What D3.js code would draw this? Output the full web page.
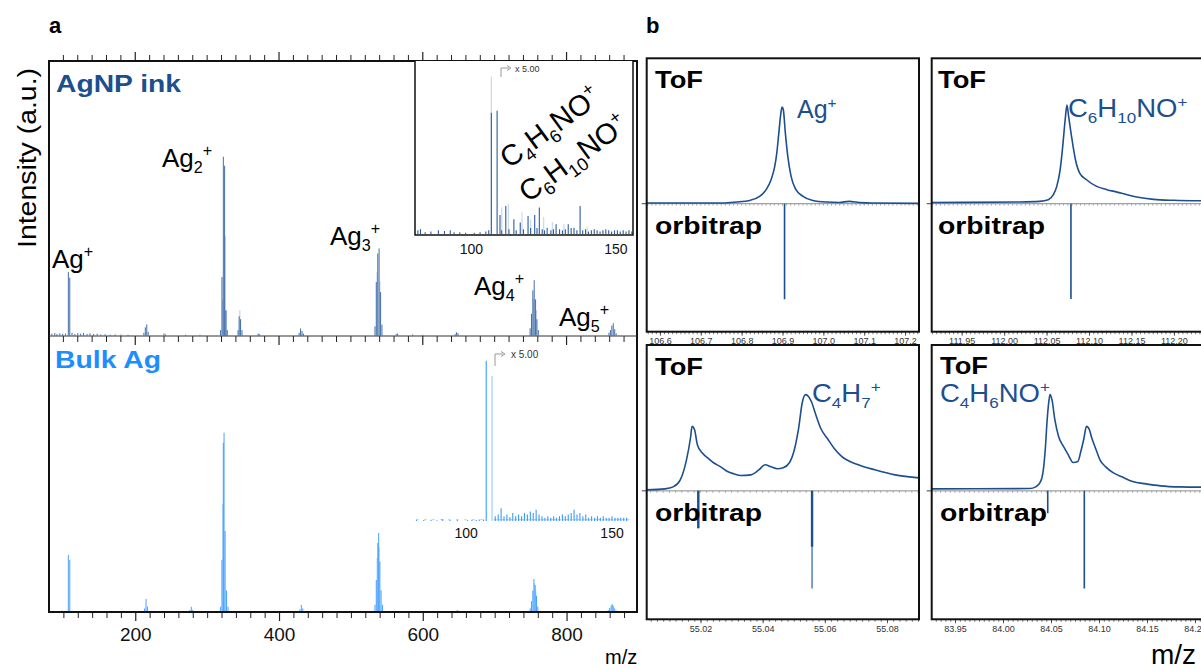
<!DOCTYPE html>
<html>
<head>
<meta charset="utf-8">
<script src="https://cdn.jsdelivr.net/npm/d3@7"></script>
<style>
  html, body { margin: 0; padding: 0; background: #fff; }
  svg { display: block; font-family: "Liberation Sans", Arial, Helvetica, sans-serif; }
</style>
</head>
<body>
<svg id="fig" width="1201" height="670"></svg>
<script>
// ---------------- data ----------------
// Panel a, survey spectra: [m/z, relative intensity]
const agnpPeaks = [
  [84,1.0],[88,1.4],[91,0.8],[95,1.2],[99,0.9],[103,1.1],[106.9,35.2],[108.9,32],
  [112,1.5],[116,0.8],[120,1.3],[124,1.0],[128,1.4],[133,0.9],[137,1.2],[142,0.8],
  [147,1.0],[152,0.6],[158,0.7],[165,0.5],[172,0.6],[180,0.5],[190,0.4],
  [212,1.5],[214,4.5],[216,6.1],[218,2.0],[240,1.1],[242,0.6],[270,0.4],[290,0.4],
  [318.7,3],[320.6,32.4],[322.5,99],[324.3,94],[326,13.9],[328,3],
  [343,3],[344.5,10.6],[346.5,9],[348.5,3],[371,1.1],[373,0.7],
  [428,1.5],[430,3.9],[432,2.5],[434,1],
  [533.5,5],[535.3,29.6],[537.4,45.4],[539.2,48.2],[541.3,24],[543.2,6],
  [563,0.8],[565,1.1],[586,0.6],[600,0.4],[645,0.8],[647,1.8],[649,1.2],
  [749.3,4],[751.2,12],[753.1,25],[755,30.6],[756.9,20],[758.8,9],[760.7,3],
  [859,1.5],[861,3],[863,5.5],[865,6.8],[867,3.5],[869,1.2]
];
const agnpShoulders = [[321.5,20],[325.2,55],[327,14],[345.5,14],[536.4,35],[540.3,30],[754,20],[757.9,14]];

const bulkPeaks = [
  [86,0.6],[92,0.5],[98,0.7],[103,0.5],[106.9,31.7],[108.9,29],
  [113,0.6],[120,0.5],[128,0.7],[136,0.4],[145,0.6],[155,0.4],[170,0.5],[185,0.4],
  [213,2],[215,7.2],[217,3],[230,0.5],[250,0.6],[262,0.4],[276,1.2],[278,2.9],[280,1.2],[300,0.4],
  [318.7,3],[320.6,29],[322.5,94],[323.5,99.6],[325,45],[327,12],[329,3],[345,0.6],[372,0.5],
  [429,1.5],[431,3.9],[433,2],
  [533.5,4],[535.3,17.8],[537.4,38.3],[538.6,43.9],[540.3,28],[542,12],[544,4],
  [646,0.6],[648,1.1],[650,0.6],
  [749.3,2],[751.2,6],[753.1,12],[754.6,18.3],[756.4,15],[758.2,9],[760,3],
  [858,1],[860,2.2],[862,3.6],[863.5,4.4],[865,3.4],[867,2],[869,0.8]
];
const bulkShoulders = [[321.6,60],[536.4,30],[539.5,36],[755.5,16],[757.3,12]];

// Insets, low-mass region magnified x5
const agnpInsetPeaks = [
  [81.5,3],[82.4,4],[84,1.5],[86,2],[88.6,3],[90.7,2.5],[92.7,3],[94,1.5],[96,1.5],[98,1],
  [101,1],[103,1.5],[105,2],[106,3],[106.9,100],[108.9,101.7],[109.9,15.7],[110.5,3],
  [111.9,23.1],[113,4],[114.7,12.1],[115.5,3],[116.9,9.4],[118,4],[119.6,14.9],[120.5,5],
  [121.9,15.7],[122.7,5],[123.5,21.8],[124.5,4],[125.3,3],[126.2,5.2],[127.5,3],[128.4,4],
  [129.3,8],[130.5,4],[131.5,3],[132.5,4],[133.5,8],[134.5,5],[135.5,5.2],[136.5,3],
  [137.6,23.1],[138.5,3],[139.5,4],[140.5,2],[141.5,3],[142.5,4],[143.5,3],[144.5,2],
  [145.5,3],[146.5,4],[147.5,3],[148.5,2],[149.5,3],[150.5,3],[151.5,2],[152.5,3],
  [153.5,2],[154.5,3],[155.5,2]
];
const agnpInsetFaint = [[106.9,130],[110.5,22],[112.8,25],[117.5,18],[120.5,12],[125,14],[128,10],[132,8],[140,6]];

const bulkInsetPeaks = [
  [83,0.8],[85.5,0.6],[88,0.8],[90,0.5],[92,1.2],[94.5,0.6],[97,0.8],[100.5,0.6],[102,0.8],
  [103.5,0.6],[104.5,0.9],[106,1],[106.9,100],
  [110,3],[111,4],[112,8],[113,3],[114,4],[115,2.5],[116,5],[117,3],[118,4],[119,3],[120,5],
  [121,4],[122,6],[123,5],[124,7],[125,4],[126,3],[127,2],[128,3],[129,2],[130,3],[131,2],
  [132,3],[133,4],[134,3],[135,4],[136,5],[137,7],[138,4],[139,5],[140,3],[141,4],[142,2],
  [143,3],[144,2],[145,3],[146,2],[147,3],[148,2],[149,2],[150,3],[151,2],[152,2],[153,2],
  [154,2],[155,2]
];
const bulkInsetSecond = [[108.9,90.5]];

const surveyTicks = [200, 400, 600, 800];
const insetTicks = [100, 150];
const clusterLabels = ["Ag^+", "Ag_2^+", "Ag_3^+", "Ag_4^+", "Ag_5^+"];

// Panel b, high-resolution peaks: ToF profile (up) and orbitrap sticks (down)
const agTof = [[106.568,0.7],[106.754,0.7],[106.787,1.7],[106.820,3.4],[106.844,7.6],[106.860,14.5],
  [106.872,24.8],[106.881,38.6],[106.886,52.4],[106.891,73.1],[106.896,93.8],[106.899,100],
  [106.902,97.2],[106.907,73.1],[106.913,48.9],[106.921,28.2],[106.933,14.5],[106.950,7.6],
  [106.974,3.4],[107.007,1.7],[107.039,1.3],[107.063,2.4],[107.088,1.3],[107.120,0.7],[107.234,0.3]];
const agOrbi = [[106.905,-99]];

const c6h10noTof = [[111.915,1.3],[112.019,1.8],[112.042,2.4],[112.052,4.1],[112.058,9.3],[112.062,17.9],
  [112.066,35.2],[112.069,59.3],[112.072,87.9],[112.074,102],[112.076,90.1],[112.080,66.2],
  [112.084,45.5],[112.089,31.7],[112.097,24.8],[112.109,17.9],[112.121,14.5],[112.133,12],
  [112.144,9.5],[112.156,7],[112.176,4.5],[112.200,3.5],[112.232,3]];
const c6h10noOrbi = [[112.0787,-98.6]];

const c4h7Tof = [[55.0027,1],[55.0086,2.1],[55.0112,4.1],[55.0135,11.4],[55.0155,32],[55.0168,54.8],
  [55.0173,66.5],[55.0181,63],[55.0190,47.6],[55.0206,39],[55.0223,34.1],[55.0242,29],[55.0265,24.8],
  [55.0287,20],[55.0307,17.6],[55.0330,15.8],[55.0362,16.5],[55.0388,21.7],[55.0408,26.9],
  [55.0427,24.8],[55.0447,22.8],[55.0466,23.8],[55.0486,29],[55.0502,42.4],[55.0515,63.1],
  [55.0528,92],[55.0538,99.3],[55.0548,97.2],[55.0557,92],[55.0570,79.6],[55.0586,65.1],
  [55.0611,52.7],[55.0631,43.4],[55.0654,35.5],[55.0708,26.9],[55.0761,21.7],[55.0826,16.5],[55.0914,13.1]];
const c4h7Orbi = [[55.0193,-38.6],[55.0559,-100.6]];
const c4h7OrbiProfile = [[55.0193,-38.6],[55.0559,-57.6]];

const c4h6noTof = [[83.926,2.1],[84.028,2.4],[84.034,4.1],[84.039,9.3],[84.042,21.7],[84.044,42.4],
  [84.046,73.4],[84.048,94.1],[84.049,99.3],[84.051,94.1],[84.054,73.4],[84.058,55.8],[84.063,45.8],
  [84.068,37.2],[84.073,29.3],[84.078,30.3],[84.081,40.3],[84.084,52.7],[84.087,66.5],[84.090,63.1],
  [84.092,56.2],[84.097,42.4],[84.101,32],[84.107,24.8],[84.115,18.6],[84.124,14.5],[84.135,9.6],
  [84.149,7.2],[84.164,5.2],[84.184,4.1],[84.209,3.8]];
const c4h6noOrbi = [[84.0466,-23],[84.0847,-100.6]];

const agTicks = [106.6,106.7,106.8,106.9,107.0,107.1,107.2];
const c6h10noTicks = [111.95,112.00,112.05,112.10,112.15,112.20];
const c4h7Ticks = [55.02,55.04,55.06,55.08];
const c4h6noTicks = [83.95,84.00,84.05,84.10,84.15,84.20];

// ---------------- drawing ----------------
const fig = d3.select("#fig");
const COL = {
  dark: "#1d4f8f", agnp: "#2b5d9e", agnpLight: "#a9c2e3",
  bulk: "#3396ff", bulkLight: "#a6d0ff", frame: "#111", tickText: "#333"
};

// formula strings: "_" starts a subscript (digits), "^" makes next char a superscript
function parseFormula(s) {
  const out = [];
  let i = 0;
  while (i < s.length) {
    if (s[i] === "_") {
      let j = i + 1; while (j < s.length && /[0-9]/.test(s[j])) j++;
      out.push({ t: s.slice(i + 1, j), k: "sub" }); i = j;
    } else if (s[i] === "^") {
      out.push({ t: s[i + 1], k: "sup" }); i += 2;
    } else {
      let j = i; while (j < s.length && s[j] !== "_" && s[j] !== "^") j++;
      out.push({ t: s.slice(i, j), k: "n" }); i = j;
    }
  }
  return out;
}
function formula(g, str, x, y, o) {
  const size = o.size, small = size * 0.62;
  let tr = `translate(${x},${y})`;
  if (o.rotate) tr += ` rotate(${o.rotate})`;
  if (o.sx) tr += ` scale(${o.sx},1)`;
  const t = g.append("text").attr("transform", tr)
    .attr("font-size", size).attr("fill", o.fill || "#000")
    .attr("font-weight", o.weight || "normal");
  let cur = 0;
  parseFormula(str).forEach(p => {
    const target = p.k === "sub" ? size * 0.24 : p.k === "sup" ? -size * 0.42 : 0;
    t.append("tspan").attr("dy", target - cur)
      .attr("font-size", p.k === "n" ? size : small).text(p.t);
    cur = target;
  });
  return t;
}
function label(g, str, x, y, size, opts = {}) {
  const t = g.append("text").attr("x", x).attr("y", y).attr("font-size", size)
    .attr("font-weight", opts.weight || "normal").attr("fill", opts.fill || "#000").text(str);
  if (opts.len) t.attr("textLength", opts.len).attr("lengthAdjust", "spacingAndGlyphs");
  if (opts.anchor) t.attr("text-anchor", opts.anchor);
  return t;
}
function sticks(g, data, x, y, color, width, opacity = 1) {
  g.selectAll(null).data(data).join("line")
    .attr("x1", d => x(d[0])).attr("x2", d => x(d[0]))
    .attr("y1", y(0)).attr("y2", d => y(d[1]))
    .attr("stroke", color).attr("stroke-width", width).attr("stroke-opacity", opacity);
}

// ===== panel a =====
const A = { left: 49, right: 637, top: 61, mid: 336, bottom: 612 };
const xA = d3.scaleLinear().domain([80, 898]).range([A.left, A.right]);
const yTop = d3.scaleLinear().domain([0, 152]).range([335.5, A.top]);
const yBot = d3.scaleLinear().domain([0, 152.5]).range([A.bottom, 337.5]);

const gA = fig.append("g");
label(gA, "a", 49, 33, 22, { weight: "bold" });

// y-axis title
gA.append("text").attr("transform", "translate(36,158) rotate(-90)")
  .attr("text-anchor", "middle").attr("font-size", 26).attr("textLength", 180)
  .attr("lengthAdjust", "spacingAndGlyphs").text("Intensity (a.u.)");

// spectra
gA.append("clipPath").attr("id", "clipA1").append("rect")
  .attr("x", A.left).attr("y", A.top).attr("width", A.right - A.left).attr("height", A.mid - A.top);
const sTop = gA.append("g").attr("clip-path", "url(#clipA1)");
sticks(sTop, agnpShoulders, xA, yTop, COL.agnpLight, 0.9);
sticks(sTop, agnpPeaks, xA, yTop, COL.agnp, 0.9);
const sBot = gA.append("g");
sticks(sBot, bulkShoulders, xA, yBot, COL.bulkLight, 0.9);
sticks(sBot, bulkPeaks, xA, yBot, COL.bulk, 0.9);

// tick rows (minor every 20, major at labelled values)
const minorA = d3.range(100, 881, 20).filter(v => !surveyTicks.includes(v));
function tickRow(y, dir) {
  const g = gA.append("g");
  g.selectAll(null).data(minorA).join("line")
    .attr("x1", d => xA(d)).attr("x2", d => xA(d)).attr("y1", y).attr("y2", y + dir * 6)
    .attr("stroke", "#222").attr("stroke-width", 1);
  g.selectAll(null).data(surveyTicks).join("line")
    .attr("x1", d => xA(d)).attr("x2", d => xA(d)).attr("y1", y).attr("y2", y + dir * 9)
    .attr("stroke", "#222").attr("stroke-width", 1.2);
}
tickRow(A.top, -1);
tickRow(A.mid, 1);
const axA = gA.append("g").attr("transform", `translate(0,${A.bottom})`)
  .call(d3.axisBottom(xA).tickValues(minorA).tickSize(6).tickFormat(""));
axA.select(".domain").remove();
axA.selectAll("line").attr("stroke", "#222");
const axA2 = gA.append("g").attr("transform", `translate(0,${A.bottom})`)
  .call(d3.axisBottom(xA).tickValues(surveyTicks).tickSize(9).tickPadding(7).tickFormat(d3.format("d")));
axA2.select(".domain").remove();
axA2.selectAll("line").attr("stroke", "#222").attr("stroke-width", 1.2);
axA2.selectAll("text").attr("font-size", 19).attr("fill", "#111")
  .attr("font-family", '"Liberation Sans", Arial, sans-serif');

// frame
gA.append("rect").attr("x", A.left).attr("y", A.top).attr("width", A.right - A.left)
  .attr("height", A.bottom - A.top).attr("fill", "none").attr("stroke", COL.frame).attr("stroke-width", 2);
gA.append("line").attr("x1", A.left).attr("x2", A.right).attr("y1", A.mid).attr("y2", A.mid)
  .attr("stroke", "#333").attr("stroke-width", 1.2);

// panel names
label(gA, "AgNP ink", 56, 92, 24, { weight: "bold", fill: "#1b4f8e", len: 125 });
label(gA, "Bulk Ag", 55, 368, 24, { weight: "bold", fill: "#1e8eff", len: 106 });

// cluster labels
const clusterPos = [[52, 268], [162, 167], [330, 245], [474, 295], [559, 326]];
clusterLabels.forEach((s, i) => formula(gA, s, clusterPos[i][0], clusterPos[i][1], { size: 26 }));

// --- inset in AgNP ink panel ---
const xI1 = d3.scaleLinear().domain([80.5, 155.9]).range([415, 633]);
const yI1 = d3.scaleLinear().domain([0, 142]).range([234, 62]);
const gI1 = gA.append("g");
gI1.append("rect").attr("x", 415).attr("y", A.top).attr("width", 218).attr("height", 174).attr("fill", "#fff");
sticks(gI1, agnpInsetFaint, xI1, yI1, "#c9d8ee", 1.2);
sticks(gI1, agnpInsetPeaks, xI1, yI1, COL.agnp, 1.1);
gI1.append("path").attr("d", "M415,61V235H633V61").attr("fill", "none").attr("stroke", "#111").attr("stroke-width", 1.5);
gI1.selectAll(null).data(insetTicks).join("text")
  .attr("x", d => xI1(d)).attr("y", 254).attr("text-anchor", "middle").attr("font-size", 14).attr("fill", "#111").text(d => d);
gI1.append("path").attr("d", "M501,77V68H509").attr("fill", "none").attr("stroke", "#999").attr("stroke-width", 1);
gI1.append("path").attr("d", "M507,65.5L511,68L507,70.5").attr("fill", "none").attr("stroke", "#999").attr("stroke-width", 1);
label(gI1, "x 5.00", 515, 71.5, 9, { fill: "#333" });
formula(gI1, "C_4H_6NO^+", 509, 169, { size: 29, rotate: -36 });
formula(gI1, "C_6H_10NO^+", 528, 203, { size: 29, rotate: -36 });

// --- inset in Bulk Ag panel ---
const xI2 = d3.scaleLinear().domain([82.5, 156.5]).range([415, 631]);
const yI2 = d3.scaleLinear().domain([0, 100]).range([521, 360.7]);
const gI2 = gA.append("g");
gI2.append("line").attr("x1", xI2(109.5)).attr("x2", xI2(156.3)).attr("y1", yI2(0.8)).attr("y2", yI2(0.8))
  .attr("stroke", "#8fc4ff").attr("stroke-width", 1).attr("stroke-dasharray", "3,1");
gI2.append("line").attr("x1", xI2(83)).attr("x2", xI2(106)).attr("y1", yI2(0.8)).attr("y2", yI2(0.8))
  .attr("stroke", "#8fc4ff").attr("stroke-width", 1).attr("stroke-dasharray", "2,6");
sticks(gI2, bulkInsetSecond, xI2, yI2, COL.bulkLight, 1.3);
sticks(gI2, bulkInsetPeaks, xI2, yI2, "#3a9bff", 1.1);
gI2.selectAll(null).data(insetTicks).join("text")
  .attr("x", d => xI2(d)).attr("y", 538).attr("text-anchor", "middle").attr("font-size", 14).attr("fill", "#111").text(d => d);
gI2.append("path").attr("d", "M495,366V354H503").attr("fill", "none").attr("stroke", "#999").attr("stroke-width", 1);
gI2.append("path").attr("d", "M501,351.5L505,354L501,356.5").attr("fill", "none").attr("stroke", "#999").attr("stroke-width", 1);
label(gI2, "x 5.00", 511, 358, 10, { fill: "#333" });

label(gA, "m/z", 605, 664, 20);

// ===== panel b =====
const gB = fig.append("g");
label(gB, "b", 646, 33, 22, { weight: "bold" });

const boxes = [
  { x0: 646.7, x1: 919, y0: 58.3, y1: 331.7, dom: [106.5676, 107.2341], tof: agTof, orbi: agOrbi,
    ticks: agTicks, fmt: ".1f", minor: 0.01, name: "Ag^+", nx: 797, ny: 118,
    tofY: 88, orbiY: 234, lx: 655 },
  { x0: 931.7, x1: 1204, y0: 58.3, y1: 331.7, dom: [111.9147, 112.2354], tof: c6h10noTof, orbi: c6h10noOrbi,
    ticks: c6h10noTicks, fmt: ".2f", minor: 0.005, name: "C_6H_10NO^+", nx: 1068, ny: 117,
    tofY: 88, orbiY: 234, lx: 938 },
  { x0: 646.7, x1: 919, y0: 345, y1: 619.3, dom: [55.0027, 55.0903], tof: c4h7Tof, orbi: c4h7Orbi,
    profile: c4h7OrbiProfile, ticks: c4h7Ticks, fmt: ".2f", minor: 0.002, name: "C_4H_7^+", nx: 812, ny: 402,
    tofY: 375, orbiY: 521, lx: 655 },
  { x0: 931.7, x1: 1204, y0: 345, y1: 619.3, dom: [83.9257, 84.2094], tof: c4h6noTof, orbi: c4h6noOrbi,
    ticks: c4h6noTicks, fmt: ".2f", minor: 0.005, name: "C_4H_6NO^+", nx: 940, ny: 402,
    tofY: 374, orbiY: 521, lx: 940 }
];

boxes.forEach((b, i) => {
  const g = gB.append("g");
  const x = d3.scaleLinear().domain(b.dom).range([b.x0, b.x1]);
  const y = d3.scaleLinear().domain([-132.5, 150.5]).range([b.y1, b.y0]);
  const clipId = "clipB" + i;
  g.append("clipPath").attr("id", clipId).append("rect")
    .attr("x", b.x0).attr("y", b.y0).attr("width", b.x1 - b.x0).attr("height", b.y1 - b.y0);
  const inner = g.append("g").attr("clip-path", `url(#${clipId})`);

  // zero line with small ticks
  const minorVals = d3.range(Math.ceil(b.dom[0] / b.minor) * b.minor, b.dom[1], b.minor);
  inner.append("line").attr("x1", b.x0).attr("x2", b.x1).attr("y1", y(0)).attr("y2", y(0))
    .attr("stroke", "#8a8a8a").attr("stroke-width", 1);
  inner.selectAll(null).data(minorVals).join("line")
    .attr("x1", d => x(d)).attr("x2", d => x(d)).attr("y1", y(0)).attr("y2", y(0) + 2)
    .attr("stroke", "#999").attr("stroke-width", 0.8);

  // ToF profile
  inner.append("path").datum(b.tof)
    .attr("d", d3.line().x(d => x(d[0])).y(d => y(d[1])).curve(d3.curveMonotoneX))
    .attr("fill", "none").attr("stroke", COL.dark).attr("stroke-width", 1.6);

  // orbitrap sticks
  inner.selectAll(null).data(b.orbi).join("line")
    .attr("x1", d => x(d[0])).attr("x2", d => x(d[0])).attr("y1", y(0)).attr("y2", d => y(d[1]))
    .attr("stroke", b.profile ? "#5f86bd" : COL.dark).attr("stroke-width", 1.6);
  if (b.profile) {
    inner.selectAll(null).data(b.profile).join("line")
      .attr("x1", d => x(d[0])).attr("x2", d => x(d[0])).attr("y1", y(0)).attr("y2", d => y(d[1]))
      .attr("stroke", COL.dark).attr("stroke-width", 2.4);
  }

  // bottom axis
  const minorAx = g.append("g").attr("transform", `translate(0,${b.y1})`)
    .call(d3.axisBottom(x).tickValues(minorVals).tickSize(2.5).tickFormat(""));
  minorAx.select(".domain").remove();
  minorAx.selectAll("line").attr("stroke", "#555").attr("stroke-width", 0.8);
  const ax = g.append("g").attr("transform", `translate(0,${b.y1})`)
    .call(d3.axisBottom(x).tickValues(b.ticks).tickSize(4).tickPadding(2).tickFormat(d3.format(b.fmt)));
  ax.select(".domain").remove();
  ax.selectAll("line").attr("stroke", "#444").attr("stroke-width", 0.9);
  ax.selectAll("text").attr("font-size", 9).attr("fill", COL.tickText)
    .attr("font-family", '"Liberation Sans", Arial, sans-serif');

  // left tick at zero
  g.append("line").attr("x1", b.x0 - 5).attr("x2", b.x0).attr("y1", y(0)).attr("y2", y(0))
    .attr("stroke", "#444").attr("stroke-width", 1);

  // box
  g.append("rect").attr("x", b.x0).attr("y", b.y0).attr("width", b.x1 - b.x0).attr("height", b.y1 - b.y0)
    .attr("fill", "none").attr("stroke", COL.frame).attr("stroke-width", 2);

  // labels
  label(g, "ToF", b.lx, b.tofY, 24, { weight: "bold", len: 48 });
  label(g, "orbitrap", b.lx, b.orbiY, 24, { weight: "bold", len: 107 });
  formula(g, b.name, b.nx, b.ny, { size: 25, fill: COL.dark, sx: i === 0 ? 1 : 1.1 });
});

label(gB, "m/z", 1151, 664, 28);
</script>
</body>
</html>
